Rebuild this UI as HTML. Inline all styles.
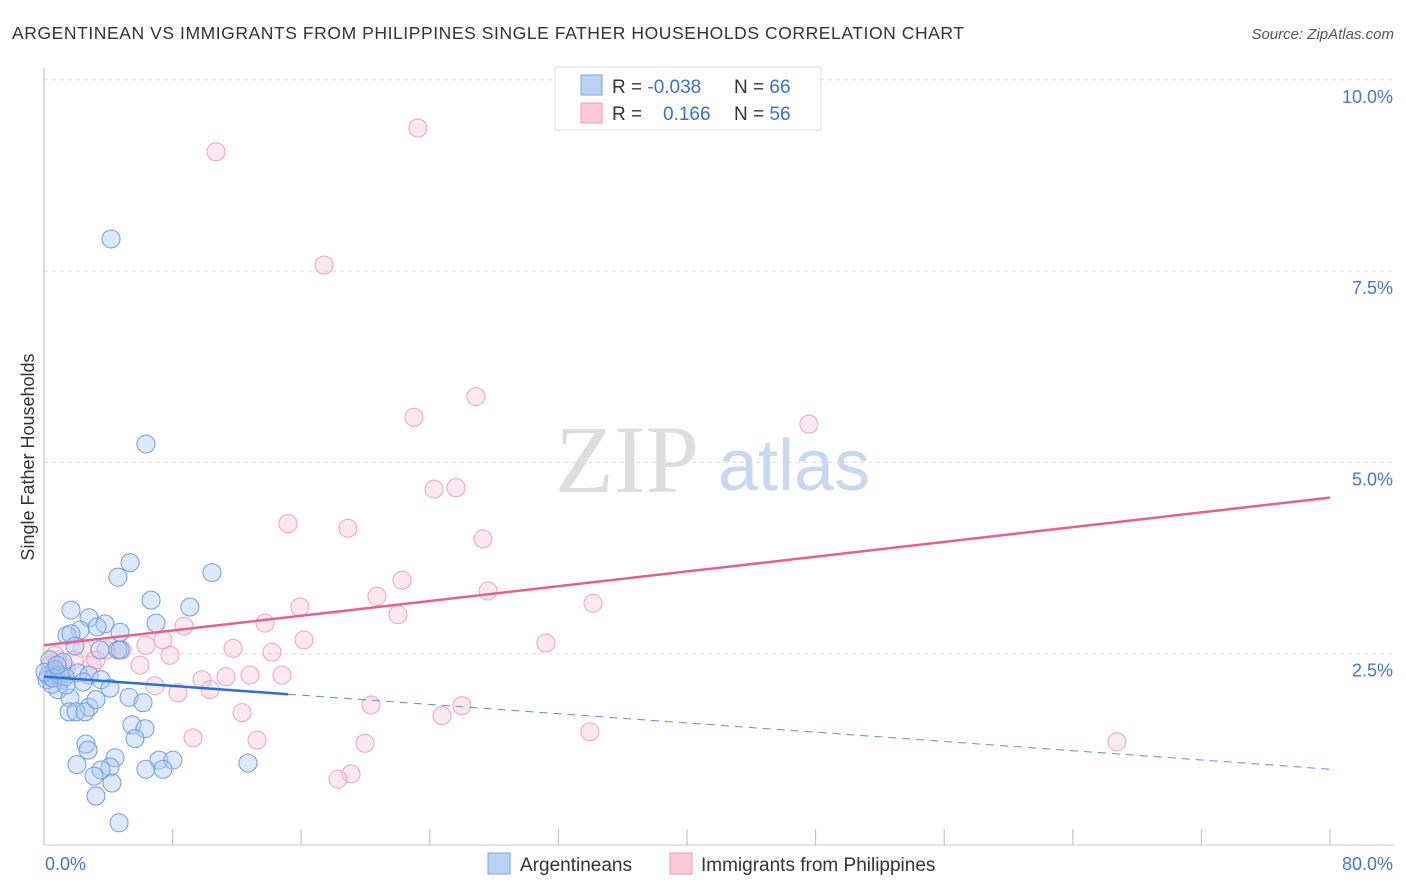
<!DOCTYPE html>
<html><head><meta charset="utf-8"><style>
body{margin:0;background:#fff;font-family:"Liberation Sans",sans-serif}
svg{display:block}
</style></head><body>
<svg width="1406" height="892" viewBox="0 0 1406 892" xmlns="http://www.w3.org/2000/svg">
<text x="12" y="39" font-size="17.5" fill="#333" textLength="952" lengthAdjust="spacing">ARGENTINEAN VS IMMIGRANTS FROM PHILIPPINES SINGLE FATHER HOUSEHOLDS CORRELATION CHART</text>
<text x="1394" y="39" font-size="15" fill="#555" font-style="italic" text-anchor="end">Source: ZipAtlas.com</text>
<g>
<text x="555" y="492" font-size="96" fill="#ddd" font-family="Liberation Serif,serif">ZIP</text>
<text x="718" y="490" font-size="72" fill="#c8d8f0">atlas</text>
</g>
<g id="grid"></g>
<line x1="44" y1="68" x2="44" y2="845" stroke="#bbb"/>
<line x1="44" y1="845" x2="1394" y2="845" stroke="#ccc"/>
<g id="xt"></g>
<text transform="translate(34,457) rotate(-90)" font-size="18" fill="#333" text-anchor="middle">Single Father Households</text>
<text x="45" y="870" font-size="18" fill="#4477cc">0.0%</text>
<text x="1393" y="870" font-size="18" fill="#4477cc" text-anchor="end">80.0%</text>
<g id="pts"></g>
<g id="lines"></g>
<g>
<rect x="555" y="67" width="266" height="63" fill="#fff" stroke="#ddd"/>
<rect x="581" y="75" width="21" height="20" fill="#b8d2f4" stroke="#7aa6e4"/>
<rect x="581" y="103" width="21" height="20" fill="#fbc9d8" stroke="#ee9ab7"/>
<text x="612" y="93" font-size="19" fill="#333">R = <tspan fill="#3b6fd0">-0.038</tspan></text>
<text x="734" y="93" font-size="19" fill="#333">N = <tspan fill="#3b6fd0">66</tspan></text>
<text x="612" y="120" font-size="19" fill="#333">R = <tspan fill="#3b6fd0" x="663">0.166</tspan></text>
<text x="734" y="120" font-size="19" fill="#333">N = <tspan fill="#3b6fd0">56</tspan></text>
</g>
<g>
<rect x="488" y="853" width="22" height="21" fill="#b8d2f4" stroke="#7aa6e4"/>
<text x="520" y="871" font-size="19" fill="#333">Argentineans</text>
<rect x="670" y="853" width="22" height="21" fill="#fbc9d8" stroke="#ee9ab7"/>
<text x="701" y="871" font-size="19" fill="#333">Immigrants from Philippines</text>
</g>
</svg>
<script>
const yTicks=[2.5,5.0,7.5,10.0];
const yTickLabels=["2.5%","5.0%","7.5%","10.0%"];
const xTicks=[0,8,16,24,32,40,48,56,64,72,80];
const blueX=[4.17,6.34,5.35,4.60,10.45,6.66,9.08,1.68,2.80,6.97,3.79,3.30,2.24,4.73,1.43,1.68,1.93,4.60,0.37,1.18,0.68,0.25,0.75,1.12,2.11,2.80,3.55,2.43,4.11,0.87,1.62,5.29,2.80,6.16,1.56,1.99,2.55,5.47,6.28,5.66,2.61,2.74,2.05,7.15,8.02,4.42,4.11,3.55,3.11,6.34,7.40,12.69,4.23,3.23,4.67,0.19,0.50,0.06,1.00,1.31,0.56,0.81,1.37,3.48,3.23,4.73];
const blueY=[7.92,5.24,3.69,3.50,3.56,3.20,3.11,3.07,2.97,2.90,2.89,2.85,2.81,2.78,2.74,2.76,2.60,2.55,2.42,2.39,2.29,2.21,2.20,2.16,2.25,2.22,2.16,2.13,2.05,2.03,1.92,1.93,1.80,1.86,1.74,1.74,1.74,1.57,1.52,1.39,1.32,1.24,1.05,1.11,1.11,1.14,1.02,0.98,0.90,0.99,0.99,1.07,0.81,0.64,0.29,2.16,2.10,2.26,2.22,2.20,2.18,2.35,2.09,2.55,1.90,2.55];
const pinkX=[23.26,10.70,17.42,26.87,23.01,47.58,24.26,25.63,15.18,18.91,27.31,22.27,20.71,27.62,15.92,34.15,22.02,8.71,13.75,7.40,16.17,31.22,2.36,6.34,11.76,4.85,3.86,14.18,7.84,5.97,2.99,1.37,0.87,0.68,0.37,14.80,9.83,11.32,12.81,6.90,10.33,8.33,12.32,20.34,26.00,24.76,33.96,66.74,9.27,13.25,19.97,19.10,18.29,3.23,1.12,1.87];
const pinkY=[9.37,9.06,7.58,5.86,5.59,5.50,4.65,4.67,4.20,4.14,4.00,3.46,3.25,3.32,3.11,3.16,3.01,2.86,2.90,2.68,2.68,2.64,2.57,2.61,2.57,2.55,2.55,2.52,2.48,2.35,2.35,2.31,2.42,2.48,2.35,2.22,2.16,2.20,2.22,2.08,2.03,1.99,1.73,1.83,1.82,1.69,1.48,1.35,1.40,1.37,1.33,0.93,0.86,2.42,2.22,2.42];
const pinkTrend=[2.61,4.54];
const blueTrend=[2.20,0.99];
const blueSolidEnd=15.18;
const NS="http://www.w3.org/2000/svg";
const sx=v=>44+v/80*1286;
const sy=v=>845-v/2.5*191.3;
function mk(t,a,p){const e=document.createElementNS(NS,t);for(const k in a)e.setAttribute(k,a[k]);p.appendChild(e);return e;}
const grid=document.getElementById('grid');
yTicks.forEach((v,i)=>{
 const l=mk('line',{x1:44,x2:1394,y1:sy(v),y2:sy(v),stroke:'#ddd','stroke-dasharray':'4,4'},grid);
 
 
 const t=mk('text',{x:1393,y:sy(v)+23,'font-size':18,fill:'#4477cc','text-anchor':'end'},grid);
 t.textContent=yTickLabels[i];
 
 
});
const xt=document.getElementById('xt');
xTicks.forEach(v=>{
 const l=mk('line',{x1:sx(v),x2:sx(v),y1:829,y2:845,stroke:'#bbb'},xt);
 
 
});
const pts=document.getElementById('pts');
pinkX.forEach((x,i)=>{
 const c=mk('circle',{cx:sx(x),cy:sy(pinkY[i]),r:9,fill:'rgba(248,190,210,0.35)',stroke:'#eea3bd','stroke-width':1},pts);
 
 
});
blueX.forEach((x,i)=>{
 const c=mk('circle',{cx:sx(x),cy:sy(blueY[i]),r:9,fill:'rgba(170,200,242,0.4)',stroke:'#6f9de2','stroke-width':1},pts);
 
 
});
const lines=document.getElementById('lines');
const pl=mk('line',{x1:sx(0),y1:sy(pinkTrend[0]),x2:sx(80),y2:sy(pinkTrend[1]),stroke:'#e6608e','stroke-width':2.5},lines);


const by=x=>blueTrend[0]+(blueTrend[1]-blueTrend[0])*x/80;
const bl=mk('line',{x1:sx(0),y1:sy(blueTrend[0]),x2:sx(blueSolidEnd),y2:sy(by(blueSolidEnd)),stroke:'#2a6fd6','stroke-width':2.5},lines);


const bd=mk('line',{x1:sx(blueSolidEnd),y1:sy(by(blueSolidEnd)),x2:sx(80),y2:sy(blueTrend[1]),stroke:'#5a8fe0','stroke-width':1,'stroke-dasharray':'8,6'},lines);


</script>
</body></html>
